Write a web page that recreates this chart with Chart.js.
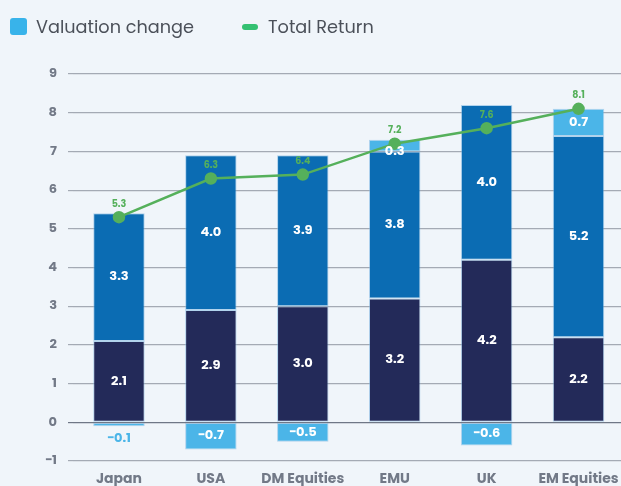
<!DOCTYPE html>
<html>
<head>
<meta charset="utf-8">
<script src="https://cdn.jsdelivr.net/npm/chart.js@4.4.1/dist/chart.umd.min.js"></script>
<style>
  html, body { margin: 0; padding: 0; background: #F0F5FA; overflow: hidden; }
  #wrap { position: relative; width: 621px; height: 486px; overflow: hidden; }
  #chart { position: absolute; left: 0; top: 0; }
  .lg { position: absolute; top: 13px; font-family: Poppins, "Noto Sans", Inter, sans-serif; font-size: 17.7px; color: #4B5059; display: flex; align-items: center; }
  .lg .box { width: 17px; height: 17px; border-radius: 3px; background: #38B3EA; margin-right: 9px; }
  .lg .pill { width: 16px; height: 6px; border-radius: 3px; background: #34C172; margin-right: 10px; }
</style>
</head>
<body>
<div id="wrap">
  <canvas id="chart" width="632" height="500" style="width:632px;height:500px"></canvas>
  <div class="lg" style="left:10px"><span class="box"></span>Valuation change</div>
  <div class="lg" style="left:242px"><span class="pill"></span>Total Return</div>
</div>
<script>
  "use strict";

  var CATEGORIES = ["Japan", "USA", "DM Equities", "EMU", "UK", "EM Equities"];
  var INCOME     = [2.1, 2.9, 3.0, 3.2, 4.2, 2.2];
  var GROWTH     = [3.3, 4.0, 3.9, 3.8, 4.0, 5.2];
  var VALUATION  = [-0.1, -0.7, -0.5, 0.3, -0.6, 0.7];
  var TOTAL      = [5.3, 6.3, 6.4, 7.2, 7.6, 8.1];
  var Y_TICKS    = [-1, 0, 1, 2, 3, 4, 5, 6, 7, 8, 9];

  var C = {
    navy: "#232A59", blue: "#0B6CB3", light: "#4BB5E8", green: "#55B05B",
    grid: "#A4AAB4", zero: "#6F7786", tick: "#727987", edge: "rgba(125,182,226,0.55)"
  };
  var FONT = "Poppins, Inter, 'Noto Sans', sans-serif";

  /* segment + line value labels, drawn by hand (no datalabels plugin) */
  var valueLabels = {
    id: "valueLabels",
    afterDatasetsDraw: function (chart) {
      var ctx = chart.ctx;
      ctx.save();
      ctx.textAlign = "center";
      ctx.textBaseline = "middle";
      chart.data.datasets.forEach(function (ds, di) {
        var meta = chart.getDatasetMeta(di);
        if (meta.hidden) return;
        meta.data.forEach(function (el, i) {
          var v = ds.data[i];
          if (ds.type === "line") {
            ctx.font = "bold 9.5px " + FONT;
            ctx.fillStyle = C.green;
            ctx.fillText(v.toFixed(1), el.x, el.y - 13);
            return;
          }
          var h = Math.abs(el.base - el.y);
          var txt = v.toFixed(1).replace("-", "\u2212");
          ctx.font = "bold 13px " + FONT;
          if (h < 6) {
            ctx.fillStyle = C.light;
            ctx.fillText(txt, el.x, Math.max(el.y, el.base) + 13);
          } else if (h < 16) {
            ctx.fillStyle = "#fff";
            ctx.fillText(txt, el.x, Math.max(el.y, el.base));
          } else {
            ctx.fillStyle = "#fff";
            ctx.fillText(txt, el.x, (el.y + el.base) / 2);
          }
        });
      });
      ctx.restore();
    }
  };

  function bar(label, data, color) {
    return {
      type: "bar", label: label, data: data, backgroundColor: color,
      borderColor: C.edge, borderWidth: 1, borderSkipped: false,
      stack: "ret", order: 1, categoryPercentage: 1, barPercentage: 0.56
    };
  }

  new Chart(document.getElementById("chart"), {
    data: {
      labels: CATEGORIES,
      datasets: [
        bar("Income", INCOME, C.navy),
        bar("Earnings growth", GROWTH, C.blue),
        bar("Valuation change", VALUATION, C.light),
        {
          type: "line", label: "Total Return", data: TOTAL, stack: "tr", order: 0,
          borderColor: C.green, backgroundColor: C.green, borderWidth: 2.5,
          pointRadius: 5, pointHoverRadius: 5, tension: 0
        }
      ]
    },
    options: {
      responsive: false, animation: false, devicePixelRatio: 1,
      layout: { padding: { top: 74, right: 5, left: 0, bottom: 0 } },
      plugins: { legend: { display: false }, tooltip: { enabled: false } },
      scales: {
        x: {
          stacked: true,
          grid: { display: false, drawTicks: false },
          border: { display: false },
          ticks: { color: C.tick, font: { family: FONT, size: 14, weight: "bold" }, padding: 10, maxRotation: 0, autoSkip: false },
          afterFit: function (a) { a.height = 39; }
        },
        y: {
          stacked: true, min: -1, max: 9,
          afterBuildTicks: function (a) { a.ticks = Y_TICKS.map(function (v) { return { value: v }; }); },
          grid: {
            color: function (c) { return c.tick && c.tick.value === 0 ? C.zero : C.grid; },
            lineWidth: 1.2, drawTicks: true, tickLength: 5
          },
          border: { display: false },
          ticks: { color: C.tick, font: { family: FONT, size: 13, weight: "bold" }, padding: 11,
                   callback: function (v) { return v < 0 ? "\u2212" + Math.abs(v) : v; } },
          afterFit: function (a) { a.width = 73; }
        }
      }
    },
    plugins: [valueLabels]
  });
</script>
</body>
</html>
